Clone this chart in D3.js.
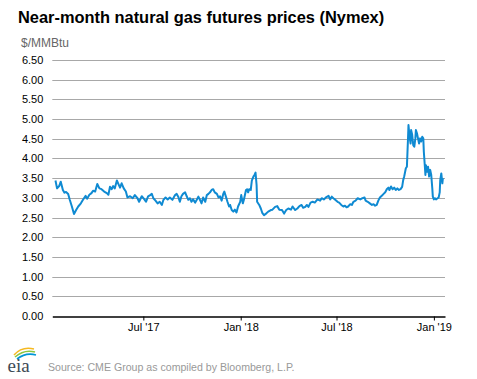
<!DOCTYPE html>
<html>
<head>
<meta charset="utf-8">
<script src="https://cdn.jsdelivr.net/npm/d3@7"></script>
<style>
  html, body { margin: 0; padding: 0; background: #fff; }
  svg { display: block; font-family: "Liberation Sans", Arial, sans-serif; }
</style>
</head>
<body>
<svg id="chart" width="477" height="379"></svg>
<script>
const title = "Near-month natural gas futures prices (Nymex)";
const unitLabel = "$/MMBtu";
const sourceText = "Source: CME Group as compiled by Bloomberg, L.P.";

const yTicks = [0, 0.5, 1, 1.5, 2, 2.5, 3, 3.5, 4, 4.5, 5, 5.5, 6, 6.5];
const xTickDates = ["2017-07-01", "2018-01-01", "2018-07-01", "2019-01-01"];
const xTickLabels = ["Jul '17", "Jan '18", "Jul '18", "Jan '19"];
const xDomain = ["2017-01-10", "2019-01-22"];

const dates = [
"2017-01-16","2017-01-19","2017-01-23","2017-01-26","2017-01-30","2017-02-02","2017-02-05","2017-02-09","2017-02-12","2017-02-16",
"2017-02-20","2017-02-24","2017-02-28","2017-03-05","2017-03-09","2017-03-14","2017-03-17","2017-03-21","2017-03-25","2017-03-28",
"2017-04-01","2017-04-05","2017-04-09","2017-04-13","2017-04-18","2017-04-23","2017-04-26","2017-04-29","2017-05-02","2017-05-05",
"2017-05-08","2017-05-12","2017-05-15","2017-05-18","2017-05-21","2017-05-25","2017-05-29","2017-06-01","2017-06-06","2017-06-11",
"2017-06-15","2017-06-20","2017-06-23","2017-06-28","2017-07-02","2017-07-06","2017-07-10","2017-07-14","2017-07-17","2017-07-20",
"2017-07-24","2017-07-28","2017-08-01","2017-08-05","2017-08-08","2017-08-12","2017-08-16","2017-08-20","2017-08-25","2017-08-30",
"2017-09-02","2017-09-05","2017-09-08","2017-09-11","2017-09-14","2017-09-18","2017-09-21","2017-09-24","2017-09-27","2017-09-30",
"2017-10-03","2017-10-07","2017-10-10","2017-10-13","2017-10-16","2017-10-19","2017-10-22","2017-10-26","2017-10-29","2017-11-01",
"2017-11-04","2017-11-07","2017-11-10","2017-11-13","2017-11-17","2017-11-20","2017-11-23","2017-11-26","2017-11-29","2017-12-01",
"2017-12-04","2017-12-07","2017-12-10","2017-12-12","2017-12-15","2017-12-18","2017-12-21","2017-12-24","2017-12-27","2017-12-31",
"2018-01-02","2018-01-05","2018-01-07","2018-01-11","2018-01-13","2018-01-15","2018-01-17","2018-01-20","2018-01-22","2018-01-25",
"2018-01-27","2018-01-29","2018-01-31","2018-02-01","2018-02-05","2018-02-08","2018-02-11","2018-02-14","2018-02-18","2018-02-22",
"2018-02-27","2018-03-02","2018-03-07","2018-03-11","2018-03-15","2018-03-20","2018-03-24","2018-03-28","2018-04-01","2018-04-06",
"2018-04-09","2018-04-14","2018-04-18","2018-04-22","2018-04-26","2018-04-29","2018-05-03","2018-05-06","2018-05-09","2018-05-13",
"2018-05-17","2018-05-21","2018-05-26","2018-05-31","2018-06-03","2018-06-07","2018-06-11","2018-06-16","2018-06-19","2018-06-22",
"2018-06-25","2018-06-28","2018-07-03","2018-07-06","2018-07-10","2018-07-14","2018-07-17","2018-07-20","2018-07-23","2018-07-27",
"2018-07-30","2018-08-02","2018-08-06","2018-08-10","2018-08-15","2018-08-19","2018-08-23","2018-08-25","2018-08-29","2018-09-02",
"2018-09-06","2018-09-09","2018-09-12","2018-09-15","2018-09-18","2018-09-21","2018-09-25","2018-09-28","2018-10-01","2018-10-04",
"2018-10-07","2018-10-09","2018-10-12","2018-10-15","2018-10-18","2018-10-21","2018-10-24","2018-10-27","2018-10-30","2018-11-02",
"2018-11-04","2018-11-06","2018-11-09","2018-11-11","2018-11-12","2018-11-13","2018-11-14","2018-11-16","2018-11-18","2018-11-19",
"2018-11-21","2018-11-23","2018-11-25","2018-11-27","2018-11-28","2018-11-30","2018-12-02","2018-12-04","2018-12-06","2018-12-08",
"2018-12-10","2018-12-12","2018-12-13","2018-12-15","2018-12-16","2018-12-17","2018-12-19","2018-12-21","2018-12-23","2018-12-25",
"2018-12-27","2018-12-29","2018-12-30","2019-01-01","2019-01-03","2019-01-05","2019-01-08","2019-01-10","2019-01-12","2019-01-13",
"2019-01-15","2019-01-17","2019-01-18"
];

const prices = [
3.44,3.24,3.30,3.41,3.20,3.13,3.15,3.10,2.95,2.78,
2.59,2.69,2.78,2.86,2.95,3.05,2.98,3.08,3.12,3.18,
3.16,3.35,3.24,3.22,3.16,3.12,3.08,3.28,3.22,3.30,
3.24,3.44,3.35,3.26,3.37,3.24,3.16,3.01,3.04,2.99,
3.07,2.99,2.90,3.04,2.98,2.90,3.04,3.07,3.10,2.99,
2.93,2.86,2.90,2.82,2.95,3.01,2.96,3.01,2.95,3.07,
3.10,3.03,2.90,3.04,3.10,3.14,3.04,2.95,2.99,2.90,
2.96,2.88,2.95,3.03,2.95,2.86,3.01,2.90,3.07,3.10,
3.14,3.20,3.22,3.14,3.10,3.01,3.04,2.93,3.10,3.16,
3.03,2.90,2.78,2.82,2.69,2.65,2.70,2.63,2.78,2.90,
3.07,2.86,2.95,3.20,3.22,3.14,3.22,3.20,3.44,3.54,
3.58,3.64,3.33,2.90,2.82,2.73,2.61,2.56,2.60,2.65,
2.69,2.70,2.77,2.79,2.70,2.69,2.60,2.69,2.73,2.70,
2.78,2.69,2.73,2.79,2.82,2.75,2.77,2.82,2.77,2.88,
2.90,2.88,2.96,2.93,2.99,2.96,3.01,3.05,2.96,3.03,
2.99,2.96,2.90,2.88,2.82,2.78,2.80,2.76,2.78,2.84,
2.82,2.90,2.93,2.99,2.96,2.99,3.01,2.93,2.90,2.86,
2.82,2.84,2.80,2.82,2.93,3.01,3.06,3.10,3.14,3.22,
3.26,3.20,3.29,3.22,3.26,3.20,3.24,3.20,3.22,3.28,
3.45,3.55,3.75,3.79,4.13,4.47,4.85,4.55,4.38,4.72,
4.60,4.34,4.30,4.51,4.72,4.64,4.51,4.38,4.51,4.43,
4.55,4.51,4.17,3.79,3.58,3.83,3.66,3.79,3.54,3.71,
3.58,3.24,3.03,2.96,2.99,2.96,2.99,3.01,3.14,3.45,
3.62,3.37,3.50
];

const parse = d3.timeParse("%Y-%m-%d");
const data = dates.map((d, i) => ({ date: parse(d), value: prices[i] }));

const svg = d3.select("#chart");
const plotLeft = 52.3, plotRight = 445, plotTop = 60, plotBottom = 316;

const x = d3.scaleTime().domain(xDomain.map(parse)).range([plotLeft, plotRight]);
const y = d3.scaleLinear().domain([0, 6.5]).range([plotBottom, plotTop]);

// Title
svg.append("text").attr("x", 18).attr("y", 22.5)
  .attr("font-size", 16.4).attr("font-weight", "bold").attr("fill", "#000")
  .text(title);
svg.append("text").attr("x", 21).attr("y", 47)
  .attr("font-size", 12).attr("fill", "#666")
  .text(unitLabel);

// Gridlines
svg.append("g").selectAll("line").data(yTicks.filter(v => v > 0)).join("line")
  .attr("x1", plotLeft).attr("x2", plotRight)
  .attr("y1", d => Math.round(y(d)) + 0.5).attr("y2", d => Math.round(y(d)) + 0.5)
  .attr("stroke", "#a8a8a8").attr("stroke-width", 1);

// Y axis labels
const yAxis = d3.axisLeft(y).tickValues(yTicks).tickFormat(d3.format(".2f")).tickSize(0).tickPadding(9);
const yg = svg.append("g").attr("transform", `translate(${plotLeft},0)`).call(yAxis);
yg.select(".domain").remove();
yg.selectAll("text").attr("font-size", 11).attr("fill", "#000")
  .attr("font-family", "'Liberation Sans', Arial, sans-serif");

// X axis
const xAxis = d3.axisBottom(x).tickValues(xTickDates.map(parse))
  .tickFormat((d, i) => xTickLabels[i]).tickSize(4).tickSizeOuter(0).tickPadding(3);
const xg = svg.append("g").attr("transform", `translate(0,${plotBottom + 0.5})`).call(xAxis);
xg.select(".domain").attr("stroke", "#000").attr("stroke-width", 1.3);
xg.selectAll(".tick line").attr("stroke", "#000");
xg.selectAll("text").attr("font-size", 11).attr("fill", "#000")
  .attr("font-family", "'Liberation Sans', Arial, sans-serif");

// Line
const line = d3.line().x(d => x(d.date)).y(d => y(d.value));
svg.append("path").datum(data)
  .attr("fill", "none").attr("stroke", "#0f8ad2").attr("stroke-width", 2)
  .attr("stroke-linejoin", "round")
  .attr("d", line);

// Source
svg.append("text").attr("x", 48).attr("y", 370.5)
  .attr("font-size", 10.6).attr("fill", "#999")
  .text(sourceText);

// EIA logo
const logo = svg.append("g");
logo.append("path").attr("d", "M14,355 Q22,346 34,349").attr("fill", "none").attr("stroke", "#f5b921").attr("stroke-width", 1.6);
logo.append("path").attr("d", "M15,357 Q24,349 35,352").attr("fill", "none").attr("stroke", "#8cc63f").attr("stroke-width", 1.6);
logo.append("path").attr("d", "M17,359 Q26,352 36,355").attr("fill", "none").attr("stroke", "#0096d7").attr("stroke-width", 1.6);
logo.append("text").attr("x", 7.5).attr("y", 372).attr("font-size", 19)
  .attr("font-family", "'Liberation Serif', 'DejaVu Serif', serif").attr("fill", "#3d4a55")
  .text("eia");
</script>
</body>
</html>
